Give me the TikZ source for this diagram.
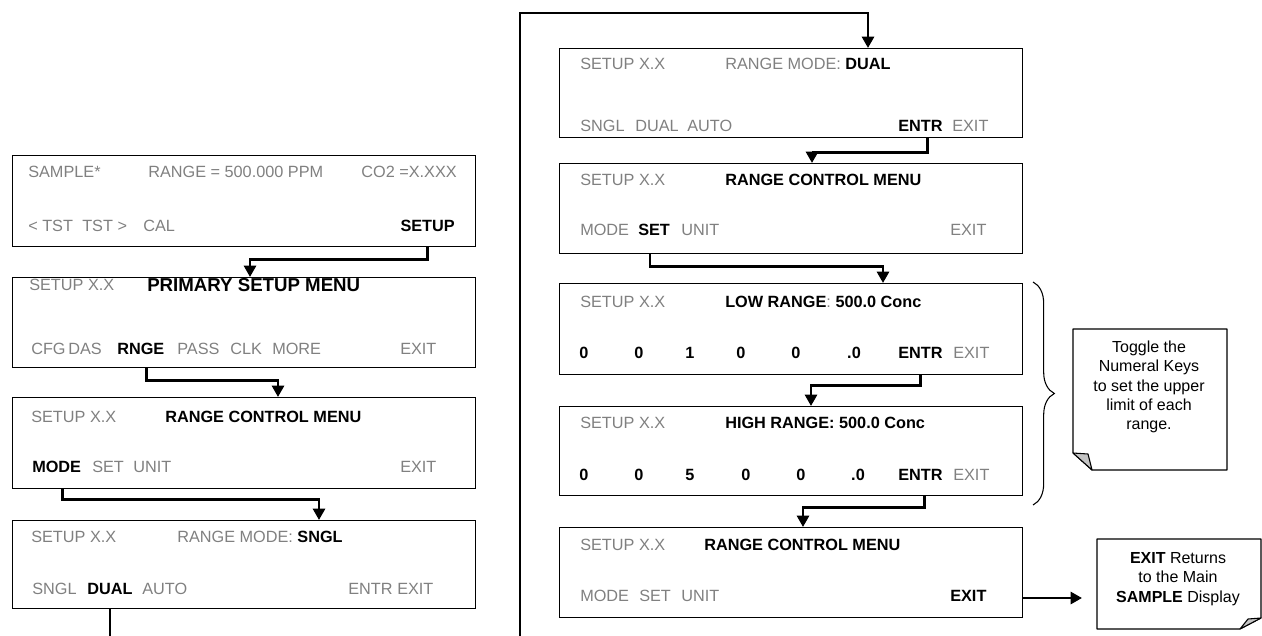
\documentclass[tikz,border=0pt]{standalone}
\usepackage{fontspec}
\setmainfont{Liberation Sans}
\usetikzlibrary{arrows.meta,decorations.pathreplacing}
\definecolor{keygray}{RGB}{128,128,128}
\definecolor{foldgray}{RGB}{196,196,196}
\begin{document}
\begin{tikzpicture}[x=0.75pt,y=-0.75pt,
  screen/.style={draw, line width=1pt, anchor=north west, inner sep=0pt, minimum width=347.25pt, minimum height=#1},
  gtxt/.style={inner sep=0pt, anchor=west, text height=8.6pt, text depth=0pt, font=\fontsize{12.2}{14}\selectfont, text=keygray},
  ktxt/.style={gtxt, text=black, font=\fontsize{12.2}{14}\selectfont\bfseries},
  conn/.style={line width=2pt, -{Triangle[width=9pt,length=8.5pt]}},
  notebox/.style={draw, line width=0.8pt, fill=white, line join=round},
  fold/.style={draw, line width=0.8pt, fill=foldgray, line join=round},
  notetext/.style={align=center, inner sep=0pt, font=\fontsize{12}{14.5}\selectfont}
]
\useasboundingbox (0,0) rectangle (1262,635);
\clip (0,0) rectangle (1262,635);

% ---------- left column screens ----------
\node[screen=68.25pt] (b1) at (12,155) {};
\node[screen=67.5pt]  (b2) at (12,277) {};
\node[screen=68.25pt] (b3) at (12,397) {};
\node[screen=66pt]    (b4) at (12,520) {};

% b1
\node[gtxt] (b1a) at (28,172) {SAMPLE*};
\node[gtxt] (b1b) at (148,172) {RANGE = 500.000 PPM};
\node[gtxt, anchor=east] (b1c) at (457,172) {CO2 =X.XXX};
\node[gtxt] (b1d) at (28,226) {< TST};
\node[gtxt] (b1e) at (82,226) {TST >};
\node[gtxt] (b1f) at (143,226) {CAL};
\node[ktxt, anchor=east] (k1) at (455,226) {SETUP};

% b2
\node[gtxt] (b2a) at (29,285) {SETUP X.X};
\node[ktxt, font=\fontsize{14}{16}\selectfont\bfseries, text height=10pt] (b2b) at (147,285) {PRIMARY SETUP MENU};
\node[gtxt] (b2c) at (31,349) {CFG};
\node[gtxt] (b2d) at (68,349) {DAS};
\node[ktxt] (k2) at (117,349) {RNGE};
\node[gtxt] (b2e) at (177,349) {PASS};
\node[gtxt] (b2f) at (230,349) {CLK};
\node[gtxt] (b2g) at (272,349) {MORE};
\node[gtxt] (b2h) at (400,349) {EXIT};

% b3
\node[gtxt] (b3a) at (31,417) {SETUP X.X};
\node[ktxt] (b3b) at (165,417) {RANGE CONTROL MENU};
\node[ktxt] (k3) at (32,467) {MODE};
\node[gtxt] (b3c) at (92,467) {SET};
\node[gtxt] (b3d) at (133,467) {UNIT};
\node[gtxt] (b3e) at (400,467) {EXIT};

% b4
\node[gtxt] (b4a) at (31,537) {SETUP X.X};
\node[gtxt] (b4b) at (177,537) {RANGE MODE: {\color{black}\bfseries SNGL}};
\node[gtxt] (b4d) at (32,589) {SNGL};
\node[ktxt] (k4) at (87,589) {DUAL};
\node[gtxt] (b4e) at (142,589) {AUTO};
\node[gtxt] (b4f) at (348,589) {ENTR};
\node[gtxt] (b4g) at (397,589) {EXIT};

% ---------- right column screens ----------
\node[screen=66.75pt] (r1) at (559,48) {};
\node[screen=67.5pt]  (r2) at (559,163) {};
\node[screen=68.25pt] (r3) at (559,283) {};
\node[screen=66.75pt] (r4) at (559,406) {};
\node[screen=67.5pt]  (r5) at (559,527) {};

% r1
\node[gtxt] (r1a) at (580,64) {SETUP X.X};
\node[gtxt] (r1b) at (725,64) {RANGE MODE: {\color{black}\bfseries DUAL}};
\node[gtxt] (r1d) at (580,126) {SNGL};
\node[gtxt] (r1e) at (635,126) {DUAL};
\node[gtxt] (r1f) at (687,126) {AUTO};
\node[ktxt] (k5) at (898,126) {ENTR};
\node[gtxt] (r1g) at (952,126) {EXIT};

% r2
\node[gtxt] (r2a) at (580,180) {SETUP X.X};
\node[ktxt] (r2b) at (725,180) {RANGE CONTROL MENU};
\node[gtxt] (r2c) at (580,230) {MODE};
\node[ktxt] (k6) at (638,230) {SET};
\node[gtxt] (r2d) at (681,230) {UNIT};
\node[gtxt] (r2e) at (950,230) {EXIT};

% r3
\node[gtxt] (r3a) at (580,302) {SETUP X.X};
\node[ktxt] (r3b) at (725,302) {LOW RANGE{\color{keygray}\mdseries:} 500.0 Conc};
\node[ktxt, anchor=center] (r3c) at (584,353) {0};
\node[ktxt, anchor=center] (r3d) at (639,353) {0};
\node[ktxt, anchor=center] (r3e) at (690,353) {1};
\node[ktxt, anchor=center] (r3f) at (741,353) {0};
\node[ktxt, anchor=center] (r3g) at (796,353) {0};
\node[ktxt, anchor=center] (r3h) at (854,353) {.0};
\node[ktxt] (k7) at (898,353) {ENTR};
\node[gtxt] (r3i) at (953,353) {EXIT};

% r4
\node[gtxt] (r4a) at (580,423) {SETUP X.X};
\node[ktxt] (r4b) at (725,423) {HIGH RANGE: 500.0 Conc};
\node[ktxt, anchor=center] (r4c) at (584,475) {0};
\node[ktxt, anchor=center] (r4d) at (639,475) {0};
\node[ktxt, anchor=center] (r4e) at (690,475) {5};
\node[ktxt, anchor=center] (r4f) at (746,475) {0};
\node[ktxt, anchor=center] (r4g) at (801,475) {0};
\node[ktxt, anchor=center] (r4h) at (858,475) {.0};
\node[ktxt] (k8) at (898,475) {ENTR};
\node[gtxt] (r4i) at (953,475) {EXIT};

% r5
\node[gtxt] (r5a) at (580,545) {SETUP X.X};
\node[ktxt] (r5b) at (704,545) {RANGE CONTROL MENU};
\node[gtxt] (r5c) at (580,596) {MODE};
\node[gtxt] (r5d) at (639,596) {SET};
\node[gtxt] (r5e) at (681,596) {UNIT};
\node[ktxt] (k9) at (950,596) {EXIT};

% ---------- connectors ----------
\path (k2 |- b2.south) ++(6,0) coordinate (s2);
\path (k3 |- b3.south) ++(6,0) coordinate (s3);
\path (k5 |- r1.south) ++(7,0) coordinate (s5);
\path (k6 |- r2.south) ++(-4,0) coordinate (s6);
\path (k8 |- r4.south) ++(4,0) coordinate (s8);
\coordinate (loopcorner) at (520,13);
\coordinate (a9) at (1082,598);

\draw[conn] (k1 |- b1.south) -- ++(0,12) -| (b2.north -| 250,0);
\draw[conn] (s2) -- ++(0,12) -| (b3.north -| 278,0);
\draw[conn] (s3) -- ++(0,10) -| (b4.north -| 319,0);
\draw[conn] (k4 |- b4.south) -- ++(0,60) -| (loopcorner) -| (r1.north -| 868,0);
\draw[conn] (s5) -- ++(0,14) -| (r2.north -| 812,0);
\draw[conn] (s6) -- ++(0,12) -| (r3.north -| 883,0);
\draw[conn] (k7 |- r3.south) -- ++(0,10) -| (r4.north -| 811,0);
\draw[conn] (s8) -- ++(0,11) -| (r5.north -| 803,0);
\draw[conn] (r5.east |- a9) -- (a9);

% ---------- brace ----------
\draw[line width=0.8pt, decorate, decoration={brace, amplitude=16pt, aspect=0.5}]
  (1033,282) -- (1033,505);

% ---------- notes ----------
\draw[notebox] (1073,329) -- (1227,329) -- (1227,470) -- (1092,470) -- (1073,453) -- cycle;
\draw[fold] (1073,453) -- (1088,454) -- (1092,470) -- cycle;
\node[notetext] (n1) at (1149,387) {Toggle the\\Numeral Keys\\to set the upper\\limit of each\\range.};

\draw[notebox] (1097,539) -- (1261,539) -- (1261,618) -- (1240,629) -- (1097,629) -- cycle;
\draw[fold] (1261,618) -- (1248,619) -- (1240,629) -- cycle;
\node[notetext] (n2) at (1178,579) {\textbf{EXIT} Returns\\to the Main\\\textbf{SAMPLE} Display};
\end{tikzpicture}
\end{document}
